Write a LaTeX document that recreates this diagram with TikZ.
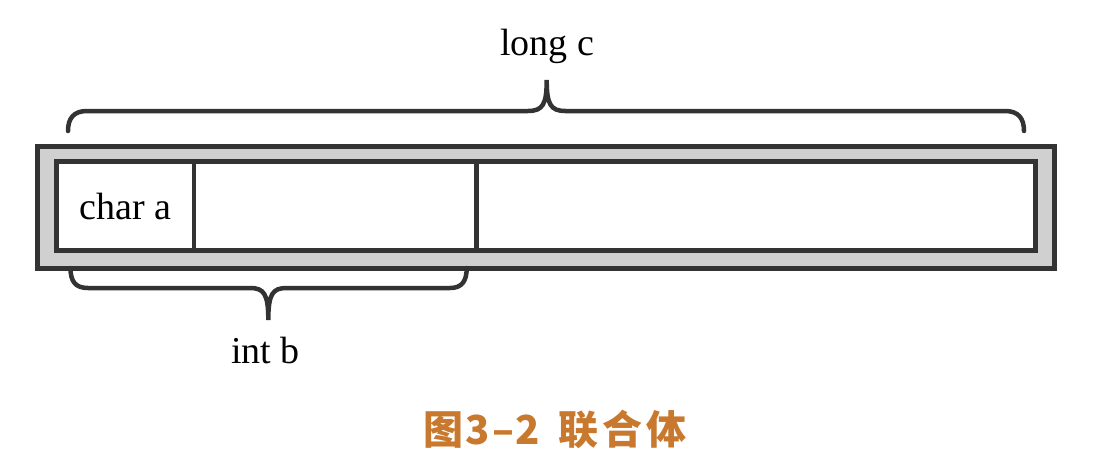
\documentclass[tikz,border=0pt]{standalone}
\usepackage{fontspec}
\setmainfont{Liberation Serif}
\newfontfamily\cjk{Noto Sans CJK SC}
\usetikzlibrary{positioning}
\definecolor{frameGray}{HTML}{D0D0D0}
\definecolor{lineDark}{HTML}{333333}
\definecolor{captionOrange}{HTML}{C8792E}

\begin{document}
\begin{tikzpicture}[
  x=1pt, y=-1pt,
  frame/.style={draw=lineDark, line width=5pt, fill=frameGray, inner sep=0pt, outer sep=0pt,
                minimum width=1017pt, minimum height=122.3pt, anchor=north west},
  cell/.style={draw=lineDark, line width=4.7pt, fill=white, inner sep=0pt, outer sep=0pt,
               minimum height=89.1pt, font=\fontsize{38}{44}\selectfont},
  fieldname/.style={font=\fontsize{38}{44}\selectfont, anchor=base, inner sep=0pt},
  brace/.style={draw=lineDark, line width=4.5pt, line cap=round}
]
\useasboundingbox (0,0) rectangle (1102,472);

\node[frame] (union) at (37.5,146) {};
\node[cell, minimum width=137.7pt, anchor=north west] (cella) at (56.3,161.7) {char a};
\node[cell, minimum width=282.5pt, right=0pt of cella] (cellb) {};
\node[cell, minimum width=559pt, right=0pt of cellb] (cellc) {};

\draw[brace] (68,131) .. controls (68,118) and (74,111) .. (87,111) -- (528,111)
  .. controls (543,111) and (546.7,104) .. (546.7,80)
  .. controls (546.7,104) and (550.4,111) .. (565.4,111) -- (1005,111)
  .. controls (1018,111) and (1024,118) .. (1024,131);
\draw[brace] (70.5,268) .. controls (70.5,281) and (75,288) .. (88,288) -- (250,288)
  .. controls (264,288) and (268.3,294) .. (268.3,320)
  .. controls (268.3,294) and (272.6,288) .. (286.6,288) -- (450,288)
  .. controls (462,288) and (466.7,281) .. (466.7,268);

\node[fieldname] (longc) at (547,55) {long c};
\node[fieldname] (intb) at (265.5,363) {int b};

\node[anchor=base, inner sep=0pt, text=captionOrange,
      font=\cjk\bfseries\fontsize{40}{46}\selectfont] (caption) at (555,444)
  {图\kern2pt 3\kern2pt–\kern2pt 2\kern18pt 联\kern4pt 合\kern4pt 体};
\end{tikzpicture}
\end{document}
